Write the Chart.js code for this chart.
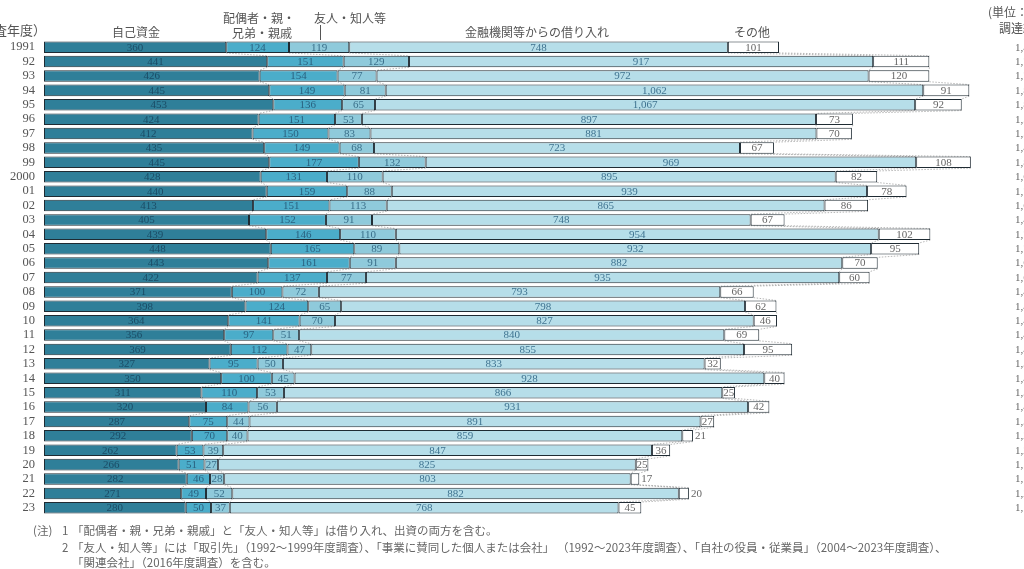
<!DOCTYPE html>
<html>
<head>
<meta charset="utf-8">
<script src="https://cdn.jsdelivr.net/npm/chart.js@4"></script>
<style>
  html, body { margin: 0; padding: 0; background: #fff; }
  #wrap { position: relative; width: 1024px; height: 569px; }
</style>
</head>
<body>
<div id="wrap"><canvas id="myChart"></canvas></div>
<script>
// 調査年度
const years = ['1991','92','93','94','95','96','97','98','99','2000',
  '01','02','03','04','05','06','07','08','09','10',
  '11','12','13','14','15','16','17','18','19','20','21','22','23']
// 自己資金
const ownFunds = [360,441,426,445,453,424,412,435,445,428,440,413,405,439,448,443,422,
  371,398,364,356,369,327,350,311,320,287,292,262,266,282,271,280]
// 配偶者・親・兄弟・親戚
const family = [124,151,154,149,136,151,150,149,177,131,159,151,152,146,165,161,137,
  100,124,141,97,112,95,100,110,84,75,70,53,51,46,49,50]
// 友人・知人等
const friends = [119,129,77,81,65,53,83,68,132,110,88,113,91,110,89,91,77,
  72,65,70,51,47,50,45,53,56,44,40,39,27,28,52,37]
// 金融機関等からの借り入れ
const banks = [748,917,972,1062,1067,897,881,723,969,895,939,865,748,954,932,882,935,
  793,798,827,840,855,833,928,866,931,891,859,847,825,803,882,768]
// その他
const others = [101,111,120,91,92,73,70,67,108,82,78,86,67,102,95,70,60,
  66,62,46,69,95,32,40,25,42,27,21,36,25,17,20,45]

const seriesNames = ['自己資金','配偶者・親・兄弟・親戚','友人・知人等','金融機関等からの借り入れ','その他']
const colors = ['#2f7f99','#4badca','#8fcadb','#b6dee9','#ffffff']
const labelColors = ['#1b4c66','#2a6280','#3a6f8a','#3f7390','#666']
const serif = '"Liberation Serif", "DejaVu Serif", "Noto Sans CJK JP", serif'
const jp = '"Noto Sans CJK JP", sans-serif'

const totals = years.map((y, i) => ownFunds[i] + family[i] + friends[i] + banks[i] + others[i])

const data = {
    labels: years,
    datasets: [ownFunds, family, friends, banks, others].map((arr, k) => ({
        label: seriesNames[k],
        data: arr,
        backgroundColor: colors[k],
        borderColor: '#1f2b33',
        borderWidth: 1,
        borderSkipped: false,
        categoryPercentage: 0.8,
        barPercentage: 1
    }))
};

// 区切り線（隣の棒の境目をつなぐ点線）
const connectors = {
    id: 'connectors',
    beforeDatasetsDraw(chart) {
        const c = chart.ctx
        c.save()
        c.strokeStyle = 'rgba(90,90,90,0.55)'
        c.lineWidth = 0.8
        c.setLineDash([1.5, 1.5])
        for (let d = 0; d < chart.data.datasets.length; d++) {
            const els = chart.getDatasetMeta(d).data
            for (let i = 0; i < els.length - 1; i++) {
                const a = els[i], b = els[i + 1]
                c.beginPath()
                c.moveTo(a.x, a.y + a.height / 2)
                c.lineTo(b.x, b.y - b.height / 2)
                c.stroke()
            }
        }
        c.restore()
    }
}

// 数値ラベル
const valueLabels = {
    id: 'valueLabels',
    afterDatasetsDraw(chart) {
        const c = chart.ctx
        c.save()
        c.font = '11px ' + serif
        c.textBaseline = 'middle'
        chart.data.datasets.forEach((ds, d) => {
            chart.getDatasetMeta(d).data.forEach((el, i) => {
                const w = el.x - el.base
                const v = ds.data[i].toLocaleString('en-US')
                c.fillStyle = labelColors[d]
                if (d === 4 && w < 12) {
                    c.textAlign = 'left'
                    c.fillText(v, el.x + 2, el.y + 0.5)
                } else {
                    c.textAlign = 'center'
                    c.fillText(v, (el.x + el.base) / 2, el.y + 0.5)
                }
            })
        })
        // 調達総額（右端で切れている）
        c.fillStyle = '#666'
        c.textAlign = 'left'
        const els = chart.getDatasetMeta(0).data
        els.forEach((el, i) => c.fillText(totals[i].toLocaleString('en-US'), 1015, el.y + 0.5))
        c.restore()
    }
}

// 見出しと注記
const headers = {
    id: 'headers',
    afterDraw(chart) {
        const c = chart.ctx
        c.save()
        c.fillStyle = '#555'
        c.textBaseline = 'middle'
        c.font = '13px ' + jp
        c.textAlign = 'right'
        c.fillText('（調査年度）', 46, 30)
        c.font = '12px ' + jp
        c.textAlign = 'center'
        c.fillText('自己資金', 136, 32)
        c.fillText('配偶者・親・', 259, 18)
        c.fillText('兄弟・親戚', 262, 33)
        c.fillText('友人・知人等', 350, 18)
        c.fillText('金融機関等からの借り入れ', 537, 32)
        c.fillText('その他', 752, 32)
        c.textAlign = 'left'
        c.fillText('(単位：万円)', 988, 12)
        c.fillText('調達総額', 999, 28)
        c.strokeStyle = '#555'
        c.lineWidth = 1
        c.beginPath()
        c.moveTo(320.5, 25)
        c.lineTo(320.5, 40)
        c.stroke()

        c.font = '11.5px ' + jp
        c.fillStyle = '#666'
        c.fillText('(注)', 33, 531)
        c.fillText('1', 62, 531)
        c.fillText('「配偶者・親・兄弟・親戚」と「友人・知人等」は借り入れ、出資の両方を含む。', 72, 531)
        c.fillText('2', 62, 548)
        c.fillText('「友人・知人等」には「取引先」（1992～1999年度調査）、「事業に賛同した個人または会社」 （1992～2023年度調査）、「自社の役員・従業員」（2004～2023年度調査）、', 72, 548)
        c.fillText('「関連会社」（2016年度調査）を含む。', 72, 563)
        c.restore()
    }
}

const config = {
    type: 'bar',
    data: data,
    options: {
        indexAxis: 'y',
        maintainAspectRatio: false,
        responsive: true,
        animation: false,
        layout: { padding: { top: 40, bottom: 54, left: 0, right: 0 } },
        plugins: {
            legend: { display: false },
            tooltip: { enabled: false }
        },
        scales: {
            x: {
                stacked: true,
                display: false,
                min: 0,
                max: 1936
            },
            y: {
                stacked: true,
                afterFit: (axis) => { axis.width = 44 },
                grid: { display: false, drawTicks: false },
                border: { display: false },
                ticks: {
                    padding: 9,
                    color: '#555',
                    font: { family: serif, size: 12.5 },
                    autoSkip: false
                }
            }
        }
    },
    plugins: [connectors, valueLabels, headers]
};
const chart = new Chart(document.getElementById('myChart'), config)
</script>
</body>
</html>
